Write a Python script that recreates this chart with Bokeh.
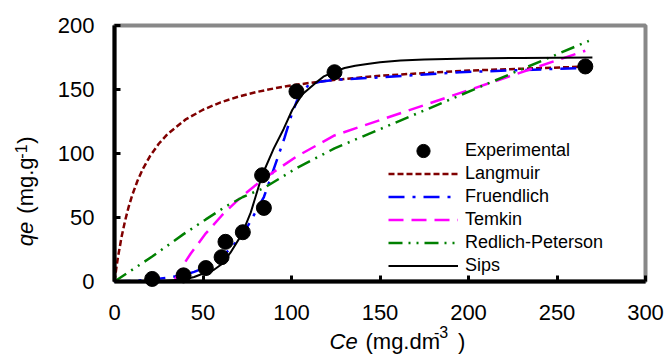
from bokeh.plotting import figure
from bokeh.models import Range1d, Legend, LegendItem, Label, FixedTicker, BoxAnnotation, LinearAxis
from bokeh.embed import file_html
from bokeh.resources import INLINE

# ---------------- data ----------------
x_ticks = [0, 50, 100, 150, 200, 250, 300]
y_ticks = [0, 50, 100, 150, 200]

ce_exp = [21.3, 39.0, 51.6, 60.5, 62.7, 72.5, 83.4, 84.4, 102.8, 124.3, 266.0]
qe_exp = [2.0, 4.8, 10.5, 19.0, 31.0, 38.5, 83.0, 57.5, 148.5, 163.5, 168.0]

ce_lang = [0, 1, 2, 4, 6, 8, 10, 13, 16, 20, 25, 30, 40, 50, 60, 70, 80, 90, 100, 120, 150, 200, 270]
q_lang = [0, 10.2, 19.3, 34.9, 47.6, 58.3, 67.4, 78.7, 87.9, 97.8, 107.6, 115.2, 126.4, 134.2,
          140.0, 144.4, 148.0, 150.8, 153.2, 156.9, 160.8, 164.8, 168.1]

ce_fr = [0, 10, 21.3, 30, 39, 45, 51.6, 56, 60.5, 62.7, 67, 72.5, 76, 80, 84.4, 88, 92, 96, 100,
         103, 106, 110, 116, 124.3, 150, 195, 268]
q_fr = [0, 0.5, 1.5, 3, 5, 7.5, 11, 15, 19.5, 22, 28, 37, 45, 55, 66, 80, 96, 112, 130,
        141, 148, 154, 156, 157.5, 159.5, 163.5, 167]

ce_tk = [33.5, 39.0, 43.0, 51.6, 60.5, 62.7, 72.5, 83.4, 84.4, 102.8, 124.3, 266.0]
q_tk = [0, 13.2, 21.7, 37.6, 51.4, 54.5, 67.2, 79.3, 80.4, 97.6, 114.1, 180.3]

ce_rp = [0, 21.3, 39.0, 51.6, 62.7, 72.5, 84.4, 102.8, 124.3, 268.0]
q_rp = [0, 19.5, 37.0, 48.5, 58.5, 66.0, 73.0, 88.5, 104.0, 188.0]

ce_sips = [21.3, 39.0, 45.0, 51.6, 56.0, 60.5, 65.5, 72.0, 77.0, 83.4, 90.0, 95.5, 100.4, 106.0,
           112.6, 118.0, 124.3, 130.0, 136.0, 142.8, 150.0, 161.6, 175.0, 200.0, 230.0, 270.0]
q_sips = [0, 1.5, 3.5, 7.0, 9.0, 13.5, 22.5, 37.0, 54.0, 83.0, 104.0, 119.0, 134.0, 146.0,
          154.0, 160.0, 164.0, 166.8, 168.6, 170.0, 171.3, 172.6, 173.5, 174.3, 174.7, 175.0]

series_names = ["Experimental", "Langmuir", "Fruendlich", "Temkin", "Redlich-Peterson", "Sips"]

FONT = "Liberation Sans"

# The frame fills the whole canvas; the axes are pinned at x=0 / y=0 so that the
# axis titles (built from several text pieces) are not clipped.
W, H = 666, 357
PX_X = 531 / 300.0   # pixels per x unit
PX_Y = 256 / 200.0   # pixels per y unit
x0 = -114 / PX_X
y1 = 200 + 25 / PX_Y

p = figure(width=W, height=H, output_backend="svg", toolbar_location=None,
           x_range=Range1d(x0, x0 + W / PX_X), y_range=Range1d(y1 - H / PX_Y, y1),
           min_border=0, min_border_left=0, min_border_right=0,
           min_border_top=0, min_border_bottom=0)
p.xgrid.visible = False
p.ygrid.visible = False
p.background_fill_color = "white"
p.border_fill_color = "white"
p.outline_line_color = None

# gray frame of the plot area (drawn under everything)
p.add_layout(BoxAnnotation(left=0, right=300, bottom=0, top=200, fill_alpha=0,
                           line_color="#888888", line_width=4, line_alpha=1,
                           level="underlay"))

p.xaxis.ticker = FixedTicker(ticks=x_ticks)
p.yaxis.ticker = FixedTicker(ticks=y_ticks)
p.xaxis.fixed_location = 0
p.yaxis.fixed_location = 0
p.xaxis.bounds = (0, 300)
p.yaxis.bounds = (0, 200)
for ax in (p.xaxis[0], p.yaxis[0]):
    ax.axis_line_width = 4
    ax.axis_line_color = "black"
    ax.major_tick_in = 6
    ax.major_tick_out = 0
    ax.major_tick_line_width = 3
    ax.major_tick_line_color = "black"
    ax.minor_tick_line_color = None
    ax.major_label_text_font = FONT
    ax.major_label_text_font_size = "22px"
    ax.major_label_text_color = "black"
p.xaxis.major_label_standoff = 23
p.yaxis.major_label_standoff = 20

# ---------------- curves ----------------
r_lang = p.line(ce_lang, q_lang, line_color="#800000", line_width=2.5, line_dash="6 3")
r_fr = p.line(ce_fr, q_fr, line_color="#0000FF", line_width=2.5, line_dash="16 8 3 8")
r_tk = p.line(ce_tk, q_tk, line_color="#FF00FF", line_width=2.5, line_dash="15 8")
r_rp = p.line(ce_rp, q_rp, line_color="#008000", line_width=2.5, line_dash="14 6 2 6 2 6")
r_sips = p.line(ce_sips, q_sips, line_color="black", line_width=2)
r_exp = p.scatter(ce_exp, qe_exp, size=15, marker="circle", fill_color="black", line_color="black")

common = dict(glyph_width=70, padding=0, margin=0, spacing=0, label_standoff=7,
              label_text_font=FONT, label_text_font_size="18px", label_text_color="black",
              background_fill_alpha=0, border_line_alpha=0)
legend1 = Legend(items=[LegendItem(label=series_names[0], renderers=[r_exp])],
                 location=(388, 190), glyph_height=33, **common)
legend2 = Legend(items=[
    LegendItem(label=series_names[1], renderers=[r_lang]),
    LegendItem(label=series_names[2], renderers=[r_fr]),
    LegendItem(label=series_names[3], renderers=[r_tk]),
    LegendItem(label=series_names[4], renderers=[r_rp]),
    LegendItem(label=series_names[5], renderers=[r_sips]),
], location=(388, 80), glyph_height=23, label_height=20, **common)
p.add_layout(legend1)
p.add_layout(legend2)

# ---------------- x axis title (mixed italic / superscript) ----------------
def lab(x, y, text, size="22px", style="normal"):
    p.add_layout(Label(x=x, y=y, text=text, text_font=FONT, text_font_size=size,
                       text_font_style=style, text_color="black",
                       text_align="left", text_baseline="middle"))

lab(121.5, -47.2, "Ce", style="italic")
lab(141.8, -47.2, "(mg.dm")
lab(180.5, -39.7, "-3", size="16px")
lab(194.0, -47.2, ")")

# ---------------- y axis title: each piece is the label of an invisible axis ----------------
def ytitle_piece(text, yc, size="22px", style="normal", standoff=77):
    ax = LinearAxis(fixed_location=0, bounds=(yc - 0.5, yc + 0.5),
                    ticker=FixedTicker(ticks=[yc]), major_label_overrides={yc: ""},
                    axis_line_color=None, major_tick_line_color=None,
                    minor_tick_line_color=None, major_tick_out=0, major_tick_in=0,
                    major_label_standoff=0,
                    axis_label=text, axis_label_standoff=standoff,
                    axis_label_text_font=FONT, axis_label_text_font_size=size,
                    axis_label_text_font_style=style, axis_label_text_color="black")
    p.add_layout(ax, "left")

ytitle_piece("qe", 36.9, style="italic")
ytitle_piece("(mg.g", 75.0)
ytitle_piece("-1", 101.6, size="16px", standoff=88)
ytitle_piece(")", 110.5)

open("out.html", "w").write(file_html(p, INLINE))
